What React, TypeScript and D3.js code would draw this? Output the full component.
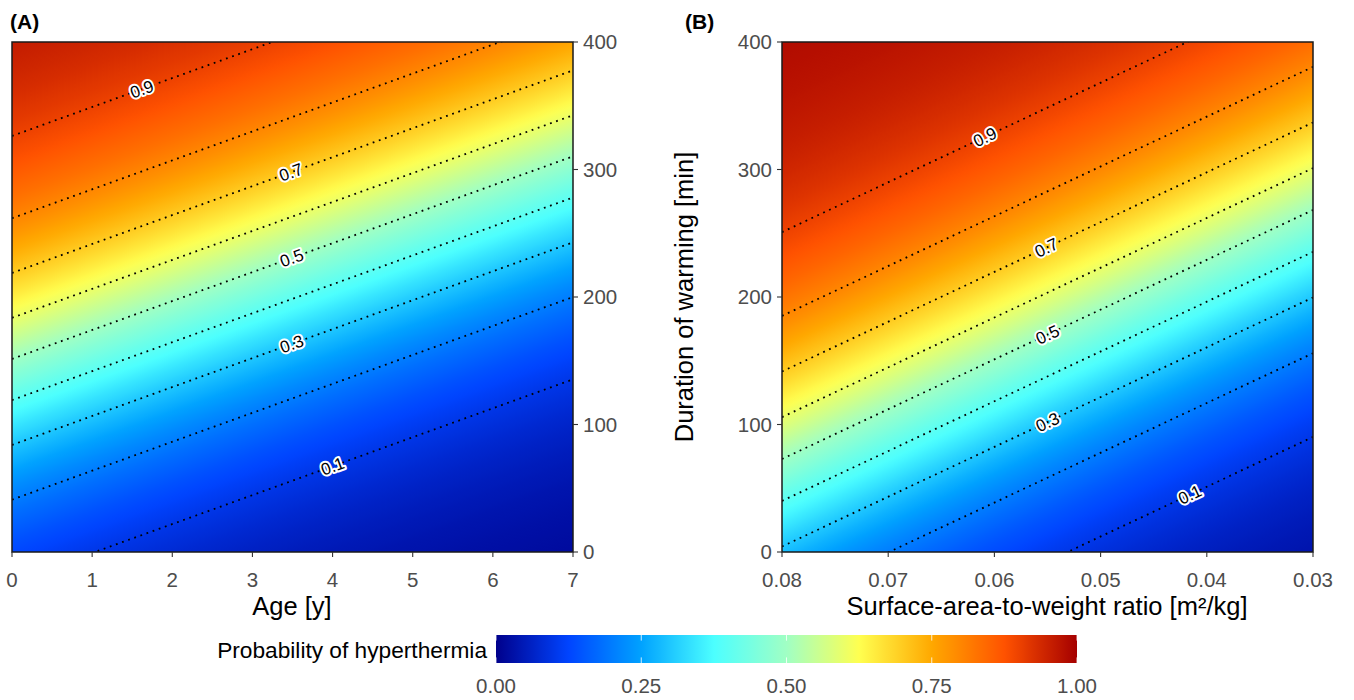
import React from "react";
import * as d3 from "d3";

// ---- data ----
const contourLevels = [0.1, 0.2, 0.3, 0.4, 0.5, 0.6, 0.7, 0.8, 0.9];
const labelledLevels = [0.1, 0.3, 0.5, 0.7, 0.9];
const ageTicks = [0, 1, 2, 3, 4, 5, 6, 7];
const ratioTicks = [0.08, 0.07, 0.06, 0.05, 0.04, 0.03];
const durationTicks = [0, 100, 200, 300, 400];
const legendTicks = [0, 0.25, 0.5, 0.75, 1];
const legendTickLabels = ["0.00", "0.25", "0.50", "0.75", "1.00"];
const paletteColours = ["#00008B", "#0044FF", "#00A2FF", "#4CFFFF", "#A0FFC4", "#FFFF50", "#FFA800", "#FF5200", "#A50000"];
// logistic model: logit(p) = intercept + slopeX * x + slopeDuration * duration
const ageModel = [-1.902, -0.2852, 0.012563];
const ratioModel = [-4.758, 48.22, 0.012346];
// x positions of the contour labels (for levels 0.1, 0.3, 0.5, 0.7, 0.9)
const ageLabelX = [4.0, 3.49, 3.49, 3.48, 1.62];
const ratioLabelX = [0.0416, 0.055, 0.055, 0.0551, 0.0609];

const FONT = "'Liberation Sans', Arial, Helvetica, sans-serif";
const yScale = d3.scaleLinear().domain([0, 400]).range([552, 42]);
const xA = d3.scaleLinear().domain([0, 7]).range([12, 573]);
const xB = d3.scaleLinear().domain([0.08, 0.03]).range([782, 1313]);

const colour = d3
  .scaleLinear<string>()
  .domain(paletteColours.map((_, i) => i / (paletteColours.length - 1)))
  .range(paletteColours)
  .interpolate(d3.interpolateRgb);

const logit = (p: number) => Math.log(p / (1 - p));
const sigmoid = (l: number) => 1 / (1 + Math.exp(-l));

function Panel({ id, xScale, model, labelX, xTicks, xFmt, yAxisRight }: any) {
  const [c0, cx, cy] = model;
  const [px0, px1] = xScale.range();
  const [py1, py0] = yScale.range(); // py1 = bottom, py0 = top
  const L = (px: number, py: number) => c0 + cx * xScale.invert(px) + cy * yScale.invert(py);
  const corners = [
    [px0, py0],
    [px1, py0],
    [px0, py1],
    [px1, py1],
  ].map((c) => ({ c, l: L(c[0], c[1]) }));
  const minC = corners.reduce((a, b) => (b.l < a.l ? b : a));
  const maxC = corners.reduce((a, b) => (b.l > a.l ? b : a));
  const gx = L(px0 + 1, py0) - L(px0, py0);
  const gy = L(px0, py0 + 1) - L(px0, py0);
  const g2 = gx * gx + gy * gy;
  const span = maxC.l - minC.l;
  const x1 = minC.c[0];
  const y1 = minC.c[1];
  const x2 = x1 + (gx * span) / g2;
  const y2 = y1 + (gy * span) / g2;
  const N = 120;
  const stops = d3.range(N + 1).map((i) => {
    const t = i / N;
    return { t, col: colour(sigmoid(minC.l + t * span)) };
  });
  const angle = (Math.atan(-gx / gy) * 180) / Math.PI;
  const durAt = (p: number, x: number) => (logit(p) - c0 - cx * x) / cy;
  const xd = xScale.domain();
  const fmt = d3.format(".1f");
  return (
    <g>
      <defs>
        <linearGradient id={`grad${id}`} gradientUnits="userSpaceOnUse" x1={x1} y1={y1} x2={x2} y2={y2}>
          {stops.map((s, i) => (
            <stop key={i} offset={s.t} stopColor={s.col} />
          ))}
        </linearGradient>
        <clipPath id={`clip${id}`}>
          <rect x={px0} y={py0} width={px1 - px0} height={py1 - py0} />
        </clipPath>
      </defs>
      <rect x={px0} y={py0} width={px1 - px0} height={py1 - py0} fill={`url(#grad${id})`} />
      <g clipPath={`url(#clip${id})`}>
        {contourLevels.map((p) => (
          <line
            key={p}
            x1={xScale(xd[0])}
            y1={yScale(durAt(p, xd[0]))}
            x2={xScale(xd[1])}
            y2={yScale(durAt(p, xd[1]))}
            stroke="#000"
            strokeWidth={1.8}
            strokeDasharray="1.8 4.7"
          />
        ))}
        {labelledLevels.map((p, i) => {
          const lx = xScale(labelX[i]);
          const ly = yScale(durAt(p, labelX[i]));
          return (
            <text
              key={p}
              transform={`translate(${lx},${ly}) rotate(${angle})`}
              textAnchor="middle"
              dy="0.35em"
              fontFamily={FONT}
              fontSize={17}
              fill="#000"
              stroke="#fff"
              strokeWidth={4}
              strokeLinejoin="round"
              style={{ paintOrder: "stroke" }}
            >
              {fmt(p)}
            </text>
          );
        })}
      </g>
      <rect x={px0} y={py0} width={px1 - px0} height={py1 - py0} fill="none" stroke="#1a1a1a" strokeWidth={1.5} />
      {/* x axis */}
      {xTicks.map((t: number) => (
        <g key={t}>
          <line x1={xScale(t)} x2={xScale(t)} y1={py1} y2={py1 + 5} stroke="#333" strokeWidth={1.1} />
          <text x={xScale(t)} y={587} textAnchor="middle" fontFamily={FONT} fontSize={20.5} fill="#4d4d4d">
            {xFmt(t)}
          </text>
        </g>
      ))}
      {/* y axis */}
      {durationTicks.map((t) => {
        const y = yScale(t);
        return yAxisRight ? (
          <g key={t}>
            <line x1={px1} x2={px1 + 5} y1={y} y2={y} stroke="#333" strokeWidth={1.1} />
            <text x={px1 + 10} y={y} dy="0.36em" textAnchor="start" fontFamily={FONT} fontSize={20.5} fill="#4d4d4d">
              {t}
            </text>
          </g>
        ) : (
          <g key={t}>
            <line x1={px0 - 5} x2={px0} y1={y} y2={y} stroke="#333" strokeWidth={1.1} />
            <text x={px0 - 10} y={y} dy="0.36em" textAnchor="end" fontFamily={FONT} fontSize={20.5} fill="#4d4d4d">
              {t}
            </text>
          </g>
        );
      })}
    </g>
  );
}

export default function App() {
  const lgX = d3.scaleLinear().domain([0, 1]).range([496, 1077]);
  const lgTop = 635;
  const lgBot = 663;
  const lgStops = d3.range(65).map((i) => i / 64);
  return (
    <svg
      width={1354}
      height={700}
      viewBox="0 0 1354 700"
      style={{ position: "absolute", left: 0, top: 0, background: "#fff" }}
    >
      <rect x={0} y={0} width={1354} height={700} fill="#fff" />
      <Panel
        id="A"
        xScale={xA}
        model={ageModel}
        labelX={ageLabelX}
        xTicks={ageTicks}
        xFmt={(t: number) => String(t)}
        yAxisRight={true}
      />
      <Panel
        id="B"
        xScale={xB}
        model={ratioModel}
        labelX={ratioLabelX}
        xTicks={ratioTicks}
        xFmt={d3.format(".2f")}
        yAxisRight={false}
      />
      <text x={10} y={29} fontFamily={FONT} fontSize={21} fontWeight="bold" fill="#000">
        (A)
      </text>
      <text x={685} y={29} fontFamily={FONT} fontSize={21} fontWeight="bold" fill="#000">
        (B)
      </text>
      <text x={292} y={615} textAnchor="middle" fontFamily={FONT} fontSize={25.5} fill="#000">
        Age [y]
      </text>
      <text x={1047} y={615} textAnchor="middle" fontFamily={FONT} fontSize={25.5} fill="#000">
        Surface-area-to-weight ratio [m²/kg]
      </text>
      <text
        transform={`translate(693,297) rotate(-90)`}
        textAnchor="middle"
        fontFamily={FONT}
        fontSize={25.5}
        fill="#000"
      >
        Duration of warming [min]
      </text>
      {/* legend */}
      <defs>
        <linearGradient id="lgGrad" x1="0" x2="1" y1="0" y2="0">
          {lgStops.map((t, i) => (
            <stop key={i} offset={t} stopColor={colour(t)} />
          ))}
        </linearGradient>
      </defs>
      <text x={487} y={658} textAnchor="end" fontFamily={FONT} fontSize={22.7} fill="#000">
        Probability of hyperthermia
      </text>
      <rect x={lgX(0)} y={lgTop} width={lgX(1) - lgX(0)} height={lgBot - lgTop} fill="url(#lgGrad)" />
      {legendTicks.map((t, i) => (
        <g key={t}>
          <line x1={lgX(t)} x2={lgX(t)} y1={lgTop} y2={lgTop + 5.6} stroke="#fff" strokeWidth={1} opacity={0.8} />
          <line x1={lgX(t)} x2={lgX(t)} y1={lgBot - 5.6} y2={lgBot} stroke="#fff" strokeWidth={1} opacity={0.8} />
          <text x={lgX(t)} y={693} textAnchor="middle" fontFamily={FONT} fontSize={20.5} fill="#4d4d4d">
            {legendTickLabels[i]}
          </text>
        </g>
      ))}
    </svg>
  );
}
